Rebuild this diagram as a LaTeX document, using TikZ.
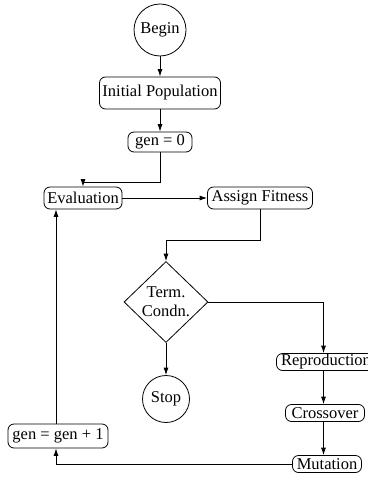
\documentclass[tikz,border=0pt]{standalone}
\usepackage{fontspec}
\setmainfont{Liberation Serif}
\usetikzlibrary{arrows.meta,shapes.geometric}

\begin{document}
\begin{tikzpicture}[x=1pt,y=-1pt,>={Latex[length=7.5pt,width=5pt]},
    every node/.style={font=\fontsize{16.5}{19}\selectfont},
    proc/.style={draw,rounded corners=6pt,inner sep=0pt,line width=0.8pt},
    term/.style={draw,circle,inner sep=0pt,line width=0.8pt},
    test/.style={draw,diamond,inner sep=0pt,align=center,line width=0.8pt},
    flow/.style={->,line width=0.8pt}]
  \useasboundingbox (0,0) rectangle (367,481);
  % main chain
  \node[term,minimum size=52pt] (begin) at (160,30) {Begin};
  \node[proc,minimum width=121pt,minimum height=32pt] (init) at (160,93) {Initial Population};
  \node[proc,minimum width=64pt,minimum height=20pt] (gen0) at (160,142) {gen = 0};
  \node[proc,minimum width=78pt,minimum height=22pt] (eval) at (83,198) {Evaluation};
  \node[proc,minimum width=105pt,minimum height=22pt] (fit) at (260,198) {Assign Fitness};
  \node[test,minimum width=84pt,minimum height=81pt] (cond) at (166,302) {Term.\\Condn.};
  \node[term,minimum size=47pt] (stop) at (166,399) {Stop};
  % genetic operators
  \node[proc,minimum width=99pt,minimum height=17pt] (repro) at (326,362) {Reproduction};
  \node[proc,minimum width=79pt,minimum height=17pt] (cross) at (325,413) {Crossover};
  \node[proc,minimum width=69pt,minimum height=17pt] (mut) at (327,464) {Mutation};
  \node[proc,minimum width=100pt,minimum height=24pt] (gen1) at (58,436) {gen = gen + 1};

  \draw[flow] (begin) -- (init);
  \draw[flow] (init) -- (gen0);
  \draw[flow] (gen0.south) -- ++(0,30) -| (eval.north);
  \draw[flow] (eval) -- (fit);
  \draw[flow] (fit.south) -- ++(0,31) -| (cond.north);
  \draw[flow] (cond) -- (stop);
  \draw[flow] (cond.east) -| (323.5,0 |- repro.north);
  \draw[flow] (323.5,0 |- repro.south) -- (323.5,0 |- cross.north);
  \draw[flow] (323.5,0 |- cross.south) -- (323.5,0 |- mut.north);
  \draw[flow] (mut.west) -| (56,0 |- gen1.south);
  \draw[flow] (56,0 |- gen1.north) -- (56,0 |- eval.south);
\end{tikzpicture}
\end{document}
